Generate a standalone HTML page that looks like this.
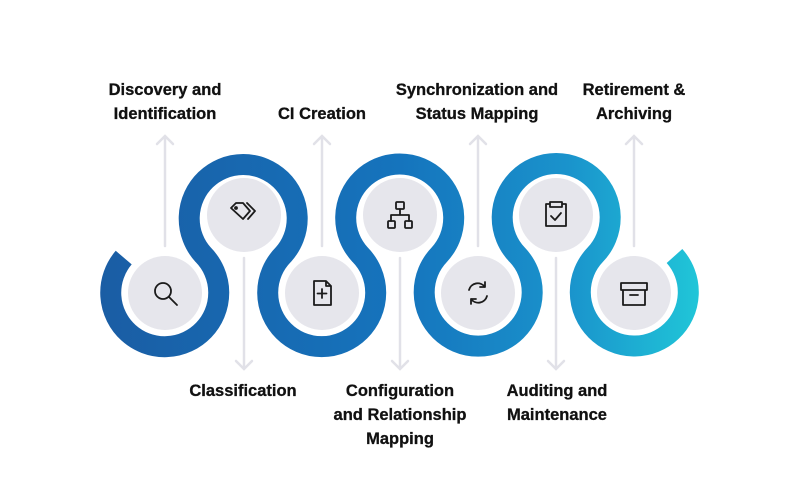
<!DOCTYPE html>
<html><head><meta charset="utf-8"><style>
html,body{margin:0;padding:0;background:#fff;}
svg{display:block}
text{font-family:"Liberation Sans",sans-serif;font-weight:bold;font-size:16.5px;fill:#111;text-anchor:middle;stroke:#111;stroke-width:0.3px}
</style></head><body>
<svg width="800" height="477" viewBox="0 0 800 477" xmlns="http://www.w3.org/2000/svg">
<defs>
<linearGradient id="g" x1="100" y1="0" x2="700" y2="0" gradientUnits="userSpaceOnUse">
<stop offset="0" stop-color="#1a5da4"/>
<stop offset="0.5" stop-color="#1574bd"/>
<stop offset="0.78" stop-color="#1a93cc"/>
<stop offset="1" stop-color="#20c6d8"/>
</linearGradient>
</defs>
<g stroke="#e1e1e8" stroke-width="2.5" fill="none" stroke-linecap="round">
<path d="M165 246V136M157 144L165 136L173 144"/>
<path d="M322 246V136M314 144L322 136L330 144"/>
<path d="M478 246V136M470 144L478 136L486 144"/>
<path d="M634 246V136M626 144L634 136L642 144"/>
<path d="M244 258V369M236 361L244 369L252 361"/>
<path d="M400 258V369M392 361L400 369L408 361"/>
<path d="M556 258V369M548 361L556 369L564 361"/>
</g>
<path fill="none" stroke="url(#g)" stroke-width="21" d="
M123.7 257.6
A54 54 0 1 0 203.2 254.8
A54 54 0 1 1 283.2 254.8
A54 54 0 1 0 360.2 254.8
A54 54 0 1 1 439.2 254.8
A54 54 0 1 0 517.2 254.8
A54 54 0 1 1 595.2 254.8
A54 54 0 1 0 674.5 256"/>
<g fill="#e6e6ec">
<circle cx="165" cy="293" r="37"/>
<circle cx="244" cy="215" r="37"/>
<circle cx="322" cy="293" r="37"/>
<circle cx="400" cy="215" r="37"/>
<circle cx="478" cy="293" r="37"/>
<circle cx="556" cy="215" r="37"/>
<circle cx="634" cy="293" r="37"/>
</g>
<g fill="none" stroke="#1b1b1b" stroke-width="1.8" stroke-linecap="round" stroke-linejoin="round">
<circle cx="163" cy="291" r="8"/><path d="M169 297L177 305"/>
<path d="M231 208L236 203L243 203L250 211L243 219Z"/>
<circle cx="236" cy="208" r="1" fill="#1b1b1b"/>
<path d="M247 203L255 211L248 219"/>
<path d="M314 281H326L331 286V305H314Z M326 281V286H331 M322 289V298M317.5 293.5H326.5"/>
<rect x="396" y="202" width="8" height="7" rx="1"/><rect x="388" y="221" width="7" height="7" rx="1"/><rect x="405" y="221" width="7" height="7" rx="1"/>
<path d="M400 209V215M391 221V215H409V221"/>
<path d="M469 290A9 9 0 0 1 485 287M487 296A9 9 0 0 1 471 299M485 282V287H480M471 304V299H476"/>
<path d="M550 204H546V226H566V204H562M550 202H562V207H550Z M551 216L555 220L561 213"/>
<path d="M621 283H647V290H621Z M623 290V305H645V290 M630 295H638"/>
</g>
<text x="165" y="95">Discovery and</text>
<text x="165" y="119">Identification</text>
<text x="322" y="119">CI Creation</text>
<text x="477" y="95">Synchronization and</text>
<text x="477" y="119">Status Mapping</text>
<text x="634" y="95">Retirement &amp;</text>
<text x="634" y="119">Archiving</text>
<text x="243" y="396">Classification</text>
<text x="400" y="396">Configuration</text>
<text x="400" y="420">and Relationship</text>
<text x="400" y="444">Mapping</text>
<text x="557" y="396">Auditing and</text>
<text x="557" y="420">Maintenance</text>
</svg>
</body></html>
